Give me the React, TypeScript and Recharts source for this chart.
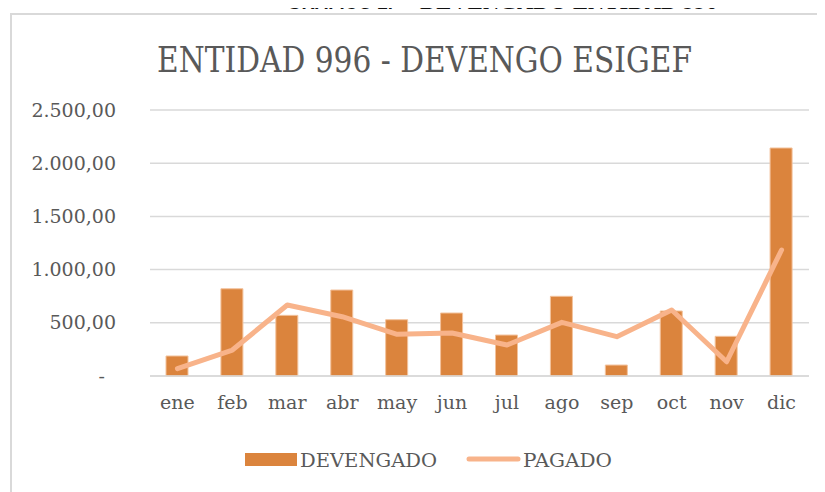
import React from 'react';
import { ComposedChart, Bar, Line, XAxis, YAxis, CartesianGrid } from 'recharts';

const months = ['ene', 'feb', 'mar', 'abr', 'may', 'jun', 'jul', 'ago', 'sep', 'oct', 'nov', 'dic'];
const devengado = [188, 820, 570, 808, 529, 592, 385, 749, 103, 611, 373, 2143];
const pagado = [69, 244, 667, 557, 392, 404, 291, 504, 370, 620, 134, 1184];
const yTicks = [0, 500, 1000, 1500, 2000, 2500];
const seriesNames = ['DEVENGADO', 'PAGADO'];
const titleText = 'ENTIDAD 996 - DEVENGO ESIGEF';
const headerLeft = 'GRAFICO 2.';
const headerRight = 'DEVENGADO ENTIDAD 996';

const data = months.map((m, i) => ({ mes: m, devengado: devengado[i], pagado: pagado[i] }));

const BAR_COLOR = '#DB843D';
const LINE_COLOR = '#F8B38A';
const TEXT_COLOR = '#595959';
const GRID_COLOR = '#D9D9D9';
const FONT = '"DejaVu Serif", serif';

const fmt = (v: number) => {
  const s = Math.round(v).toString().replace(/\B(?=(\d{3})+(?!\d))/g, '.');
  return s + ',00';
};

const YTick = (props: any) => {
  const { x, y, payload } = props;
  const v = payload.value;
  if (v === 0) {
    return (
      <text x={x - 11} y={y} dy="0.35em" textAnchor="end" fill={TEXT_COLOR} fontSize={19} fontFamily={FONT}>-</text>
    );
  }
  return (
    <text x={x} y={y} dy="0.35em" textAnchor="end" fill={TEXT_COLOR} fontSize={19} fontFamily={FONT}>{fmt(v)}</text>
  );
};

export default function App() {
  return (
    <div style={{ position: 'relative', width: 825, height: 492, margin: '-8px 0 0 -8px', overflow: 'hidden', background: '#fff' }}>
      <svg width={825} height={492} style={{ position: 'absolute', left: 0, top: 0 }}>
        <text x={287} y={9} fontFamily='"Liberation Sans", Arial, sans-serif' fontWeight="bold" fontSize={19} fill="#111" textLength={106} lengthAdjust="spacingAndGlyphs">{headerLeft}</text>
        <text x={420} y={9} fontFamily='"Liberation Serif", serif' fontWeight="bold" fontSize={21} fill="#111" textLength={297} lengthAdjust="spacingAndGlyphs">{headerRight}</text>
        <rect x={11} y={14} width={900} height={600} fill="none" stroke={GRID_COLOR} strokeWidth={2} />
        <text x={157} y={72} fontFamily={FONT} fontSize={36} fill={TEXT_COLOR} textLength={535} lengthAdjust="spacingAndGlyphs">{titleText}</text>
        <rect x={245} y={453} width={52} height={13} fill={BAR_COLOR} />
        <text x={300} y={467} fontFamily={FONT} fontSize={19} fill={TEXT_COLOR} textLength={137} lengthAdjust="spacingAndGlyphs">{seriesNames[0]}</text>
        <line x1={469} y1={459} x2={518} y2={459} stroke={LINE_COLOR} strokeWidth={5} strokeLinecap="round" />
        <text x={523} y={467} fontFamily={FONT} fontSize={19} fill={TEXT_COLOR} textLength={89} lengthAdjust="spacingAndGlyphs">{seriesNames[1]}</text>
      </svg>
      <div style={{ position: 'absolute', left: 0, top: 0 }}>
        <ComposedChart width={825} height={492} data={data} margin={{ top: 110, right: 16, bottom: 0, left: 0 }}>
          <CartesianGrid vertical={false} stroke={GRID_COLOR} strokeWidth={1.5} />
          <XAxis
            dataKey="mes"
            axisLine={{ stroke: GRID_COLOR, strokeWidth: 1.5 }}
            tickLine={false}
            height={116}
            tickMargin={14}
            tick={{ fill: TEXT_COLOR, fontSize: 19, fontFamily: FONT }}
            interval={0}
          />
          <YAxis
            domain={[0, 2500]}
            ticks={yTicks}
            width={150}
            axisLine={false}
            tickLine={false}
            tickMargin={28}
            tick={<YTick />}
            interval={0}
          />
          <Bar dataKey="devengado" name={seriesNames[0]} fill={BAR_COLOR} stroke="#F3C29C" strokeWidth={1} barSize={22} isAnimationActive={false} />
          <Line dataKey="pagado" name={seriesNames[1]} type="linear" stroke={LINE_COLOR} strokeWidth={5} strokeLinecap="round" strokeLinejoin="round" dot={false} activeDot={false} isAnimationActive={false} />
        </ComposedChart>
      </div>
    </div>
  );
}
